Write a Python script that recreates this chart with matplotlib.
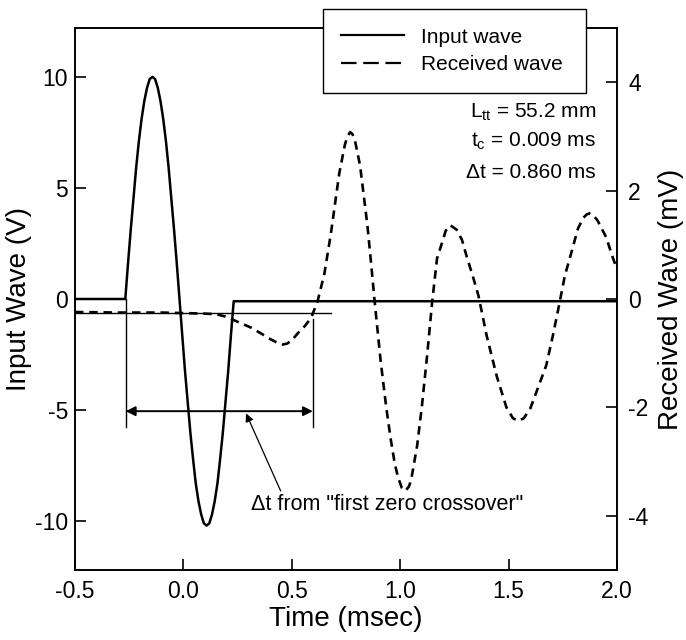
import matplotlib
matplotlib.use('Agg')
import matplotlib.pyplot as plt
from matplotlib.lines import Line2D

plt.rcParams['font.family'] = ['Liberation Sans', 'DejaVu Sans']
plt.rcParams['mathtext.default'] = 'regular'
plt.rcParams['axes.unicode_minus'] = False

# input wave (V) vs time (msec)
t_input = [-0.5, -0.268, -0.2555, -0.243, -0.2305, -0.218, -0.2055, -0.193, -0.1805, -0.168, -0.1555,
           -0.143, -0.1305, -0.118, -0.1055, -0.093, -0.0805, -0.068, -0.0555, -0.043, -0.0305,
           -0.018, -0.0055, 0.007, 0.0195, 0.032, 0.0445, 0.057, 0.0695, 0.082, 0.0945,
           0.107, 0.1195, 0.132, 0.1445, 0.157, 0.1695, 0.182, 0.1945, 0.207, 0.2195, 0.232, 2.0]
v_input = [0.0, 0.0, 1.6, 3.1, 4.5, 5.9, 7.1, 8.1, 8.9, 9.5, 9.9,
           10.0, 9.9, 9.5, 8.9, 8.1, 7.1, 5.9, 4.5, 3.1, 1.6,
           0.0, -1.6, -3.2, -4.6, -6.0, -7.2, -8.3, -9.1, -9.7, -10.1,
           -10.2, -10.1, -9.7, -9.1, -8.3, -7.2, -6.0, -4.6, -3.2, -1.6, -0.1, -0.1]

# received wave (mV) vs time (msec)
t_recv = [-0.5, -0.3, -0.1, 0.0, 0.1, 0.15, 0.19, 0.25, 0.313, 0.36, 0.405, 0.435, 0.459, 0.48,
          0.505, 0.528, 0.56, 0.589, 0.619, 0.65, 0.68, 0.719, 0.745, 0.757, 0.769, 0.78, 0.79,
          0.815, 0.849, 0.865, 0.882, 0.91, 0.935, 0.956, 0.975, 0.99, 1.007, 1.024, 1.04,
          1.05, 1.078, 1.1, 1.124, 1.147, 1.17, 1.19, 1.21, 1.231, 1.26, 1.285, 1.307, 1.335,
          1.361, 1.399, 1.445, 1.49, 1.52, 1.545, 1.57, 1.6, 1.64, 1.674, 1.705, 1.735, 1.76,
          1.78, 1.82, 1.845, 1.86, 1.873, 1.89, 1.91, 1.95, 1.98, 2.0]
mv_recv = [-0.24, -0.25, -0.25, -0.26, -0.27, -0.28, -0.32, -0.42, -0.53, -0.64, -0.75, -0.81, -0.84,
           -0.82, -0.74, -0.63, -0.5, -0.35, -0.04, 0.46, 1.2, 2.32, 2.85, 3.0, 3.08, 3.04, 2.95,
           2.46, 1.35, 0.69, -0.04, -1.15, -1.98, -2.58, -3.04, -3.29, -3.48, -3.54, -3.46,
           -3.35, -2.71, -1.98, -1.05, -0.07, 0.75, 1.0, 1.26, 1.36, 1.28, 1.09, 0.78, 0.42,
           0.06, -0.68, -1.42, -2.0, -2.2, -2.25, -2.2, -2.02, -1.59, -1.22, -0.66, -0.07, 0.44,
           0.72, 1.3, 1.5, 1.56, 1.58, 1.55, 1.45, 1.14, 0.77, 0.55]

# delta t markers
t_first = -0.266      # start of input pulse
t_cross = 0.597       # first zero crossover of received wave
base_recv = -0.26     # received wave baseline (mV)
arrow_v = -5.05       # arrow height (V)
bracket_bottom = -5.75

x_ticks = [-0.5, 0.0, 0.5, 1.0, 1.5, 2.0]
y_ticks_left = [-10, -5, 0, 5, 10]
y_ticks_right = [-4, -2, 0, 2, 4]

fig = plt.figure(figsize=(6.86, 6.40), dpi=100)
ax = fig.add_axes([75/686, 70/640, 542/686, 542/640])
ax2 = ax.twinx()

ax.plot(t_input, v_input, color='black', lw=1.8, zorder=3)
ax2.plot(t_recv, mv_recv, color='black', lw=1.9, ls=(0, (3.2, 2.2)), zorder=3)

ax.set_xlim(-0.5, 2.0)
ax.set_ylim(-12.2, 12.2)
ax2.set_ylim(-5.0, 5.0)

# baseline of received wave + bracket for delta t
ax2.plot([-0.5, 0.68], [base_recv, base_recv], color='black', lw=1.0)
ax.plot([t_first, t_first], [0, bracket_bottom], color='black', lw=1.0)
ax.plot([t_cross, t_cross], [-0.92, bracket_bottom], color='black', lw=1.0)
ax.annotate('', xy=(t_first, arrow_v), xytext=(t_cross, arrow_v),
            arrowprops=dict(arrowstyle='<|-|>', color='black', lw=1.4,
                            mutation_scale=14, shrinkA=0, shrinkB=0))
ax.annotate('\u0394t from "first zero crossover"', xy=(0.289, -5.15), xytext=(0.31, -9.24),
            fontsize=15.5, va='center', ha='left',
            arrowprops=dict(arrowstyle='-|>', color='black', lw=0.9, mutation_scale=12,
                            shrinkA=0, shrinkB=0, relpos=(0.115, 1.0)))

ax.text(0.961, 0.845, 'L$_{tt}$ = 55.2 mm', transform=ax.transAxes, ha='right', va='center', fontsize=15)
ax.text(0.961, 0.791, 't$_c$ = 0.009 ms', transform=ax.transAxes, ha='right', va='center', fontsize=15)
ax.text(0.961, 0.734, '\u0394t = 0.860 ms', transform=ax.transAxes, ha='right', va='center', fontsize=15)

ax.set_xticks(x_ticks)
ax.set_xticklabels(['%.1f' % x for x in x_ticks])
ax.set_yticks(y_ticks_left)
ax2.set_yticks(y_ticks_right)

ax.tick_params(axis='both', direction='in', length=8, width=1.2, labelsize=16.5)
ax.tick_params(axis='y', pad=5)
ax.tick_params(axis='x', pad=7)
ax2.tick_params(axis='y', direction='in', length=8, width=1.2, labelsize=16.5, pad=8)

for a in (ax, ax2):
    for s in a.spines.values():
        s.set_linewidth(1.2)

ax.set_xlabel('Time (msec)', fontsize=20)
ax.set_ylabel('Input Wave (V)', fontsize=20)
ax2.set_ylabel('Received Wave (mV)', fontsize=20)
ax.yaxis.set_label_coords(-0.079, 0.5)
ax2.yaxis.set_label_coords(1.076, 0.5)
ax.xaxis.set_label_coords(0.5, -0.066)

handles = [Line2D([], [], color='black', lw=1.6),
           Line2D([], [], color='black', lw=1.6, ls=(0, (7, 3)))]
leg = ax2.legend(handles, ['Input wave', 'Received wave'], loc='upper left',
                 bbox_to_anchor=(0.457, 0.880, 0.486, 0.155), mode='expand',
                 fontsize=15, frameon=True, fancybox=False, framealpha=1,
                 edgecolor='black', handlelength=3.0, handletextpad=0.8,
                 labelspacing=0.4, borderpad=0.9, borderaxespad=0)
leg.get_frame().set_linewidth(1.0)

fig.savefig('out.png', dpi=100)
